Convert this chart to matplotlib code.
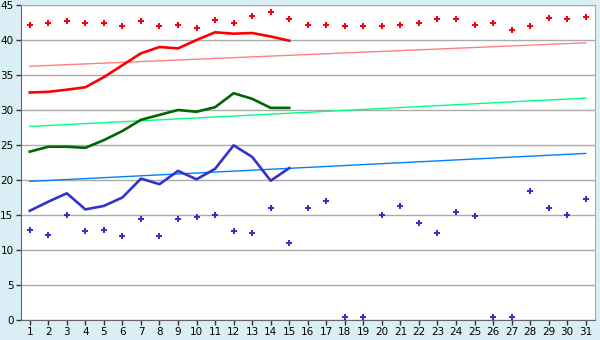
import matplotlib
matplotlib.use("Agg")
import matplotlib.pyplot as plt

# ======================================
# DATA
days = list(range(1, 32))
days_line = list(range(1, 16))

max_pts = [42.1, 42.5, 42.7, 42.5, 42.5, 41.95, 42.7, 41.95, 42.2, 41.7,
           42.8, 42.4, 43.5, 43.95, 43.0, 42.2, 42.2, 41.95, 41.95, 41.95,
           42.2, 42.5, 43.0, 43.0, 42.2, 42.4, 41.5, 41.95, 43.2, 43.0, 43.3]
min_pts = [12.8, 12.2, 14.95, 12.67, 12.8, 11.95, 14.5, 11.95, 14.5, 14.67,
           14.95, 12.67, 12.4, 15.95, 10.95, 15.95, 16.95, 0.43, 0.43, 14.95,
           16.24, 13.8, 12.4, 15.4, 14.8, 0.43, 0.43, 18.5, 15.95, 14.95, 17.24]

red_line = [32.5, 32.6, 32.9, 33.25, 34.7, 36.4, 38.1, 39.0, 38.8, 40.0,
            41.1, 40.9, 41.0, 40.5, 39.9]
green_line = [24.05, 24.75, 24.75, 24.6, 25.7, 27.0, 28.6, 29.3, 30.0, 29.75,
              30.4, 32.4, 31.6, 30.3, 30.3]
blue_line = [15.6, 16.9, 18.1, 15.8, 16.3, 17.5, 20.2, 19.4, 21.3, 20.1,
             21.6, 24.95, 23.3, 19.9, 21.7]

# straight reference lines, start (day 1) and end (day 31)
trend_days = [1, 31]
red_trend = [36.25, 39.6]
green_trend = [27.65, 31.7]
blue_trend = [19.8, 23.8]

yticks = [0, 5, 10, 15, 20, 25, 30, 35, 40, 45]

# ======================================
# FIGURE
bg = '#DAEEF5'
fig = plt.figure(figsize=(6, 3.4), dpi=100, facecolor=bg)
ax = fig.add_axes([20.5 / 600, 20 / 340, 574.5 / 600, 315 / 340])
ax.set_facecolor('white')

ax.plot(trend_days, red_trend, color='#FF8080', lw=1.0, zorder=2)
ax.plot(trend_days, green_trend, color='#00FF80', lw=1.0, zorder=2)
ax.plot(trend_days, blue_trend, color='#0080FF', lw=1.0, zorder=2)

ax.plot(days_line, red_line, color='#FF0000', lw=1.9, zorder=3)
ax.plot(days_line, green_line, color='#006600', lw=1.9, zorder=3)
ax.plot(days_line, blue_line, color='#3333CC', lw=1.9, zorder=3)

ax.plot(days, max_pts, 'P', color='#FF0000', ms=5, mew=0, ls='none', zorder=4)
ax.plot(days, min_pts, 'P', color='#3333CC', ms=5, mew=0, ls='none', zorder=4)

# ======================================
# AXES
ax.set_xlim(0.5, 31.5)
ax.set_ylim(0, 45)
ax.set_xticks(days)
ax.set_yticks(yticks)
ax.tick_params(axis='both', direction='out', length=3.5, width=1, colors='#333333',
               labelsize=7.5, pad=1.5)
ax.tick_params(axis='x', labelcolor='black')
ax.tick_params(axis='y', labelcolor='black')
ax.yaxis.grid(True, color='#AAAAAA', lw=1)
ax.set_axisbelow(True)
for side in ['top', 'right']:
    ax.spines[side].set_color('#AAAAAA')
for side in ['left', 'bottom']:
    ax.spines[side].set_color('#666666')

fig.savefig('out.png', dpi=100, facecolor=bg)
